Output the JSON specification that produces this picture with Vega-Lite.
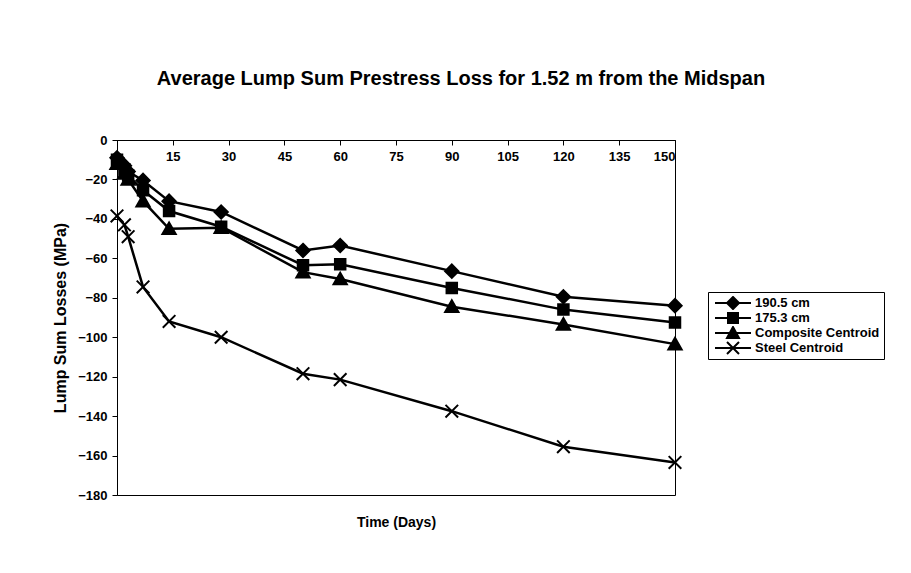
{
  "$schema": "https://vega.github.io/schema/vega-lite/v6.json",
  "width": 558,
  "height": 355,
  "autosize": {"type": "none"},
  "padding": {"left": 117, "top": 140, "right": 236, "bottom": 78},
  "background": "white",
  "config": {
    "font": "Liberation Sans",
    "view": {"stroke": "black", "strokeWidth": 1},
    "axis": {"labelFontWeight": "bold", "labelFontSize": 13, "labelColor": "black", "titleColor": "black", "titleFontWeight": "bold", "domainColor": "black", "tickColor": "black", "grid": false}
  },
  "title": {
    "text": "Average Lump Sum Prestress Loss for 1.52 m from the Midspan",
    "fontSize": 20,
    "fontWeight": "bold",
    "color": "black",
    "anchor": "middle",
    "dx": 65,
    "offset": 45
  },
  "data": {
    "values": [
      {"day": 0, "series": "190.5 cm", "loss": -9},
      {"day": 2, "series": "190.5 cm", "loss": -13},
      {"day": 3, "series": "190.5 cm", "loss": -16},
      {"day": 7, "series": "190.5 cm", "loss": -20.5},
      {"day": 14, "series": "190.5 cm", "loss": -31},
      {"day": 28, "series": "190.5 cm", "loss": -36.5},
      {"day": 50, "series": "190.5 cm", "loss": -56},
      {"day": 60, "series": "190.5 cm", "loss": -53.5},
      {"day": 90, "series": "190.5 cm", "loss": -66.5},
      {"day": 120, "series": "190.5 cm", "loss": -79.5},
      {"day": 150, "series": "190.5 cm", "loss": -84},
      {"day": 0, "series": "175.3 cm", "loss": -10},
      {"day": 2, "series": "175.3 cm", "loss": -15},
      {"day": 3, "series": "175.3 cm", "loss": -18},
      {"day": 7, "series": "175.3 cm", "loss": -25.5},
      {"day": 14, "series": "175.3 cm", "loss": -36},
      {"day": 28, "series": "175.3 cm", "loss": -44},
      {"day": 50, "series": "175.3 cm", "loss": -63.5},
      {"day": 60, "series": "175.3 cm", "loss": -63},
      {"day": 90, "series": "175.3 cm", "loss": -75},
      {"day": 120, "series": "175.3 cm", "loss": -86},
      {"day": 150, "series": "175.3 cm", "loss": -92.5},
      {"day": 0, "series": "Composite Centroid", "loss": -12},
      {"day": 2, "series": "Composite Centroid", "loss": -17},
      {"day": 3, "series": "Composite Centroid", "loss": -20},
      {"day": 7, "series": "Composite Centroid", "loss": -31},
      {"day": 14, "series": "Composite Centroid", "loss": -45},
      {"day": 28, "series": "Composite Centroid", "loss": -44.5},
      {"day": 50, "series": "Composite Centroid", "loss": -67},
      {"day": 60, "series": "Composite Centroid", "loss": -70.5},
      {"day": 90, "series": "Composite Centroid", "loss": -84.5},
      {"day": 120, "series": "Composite Centroid", "loss": -93.5},
      {"day": 150, "series": "Composite Centroid", "loss": -103.5},
      {"day": 0, "series": "Steel Centroid", "loss": -38.5},
      {"day": 2, "series": "Steel Centroid", "loss": -43},
      {"day": 3, "series": "Steel Centroid", "loss": -49},
      {"day": 7, "series": "Steel Centroid", "loss": -74.5},
      {"day": 14, "series": "Steel Centroid", "loss": -92},
      {"day": 28, "series": "Steel Centroid", "loss": -100},
      {"day": 50, "series": "Steel Centroid", "loss": -118.5},
      {"day": 60, "series": "Steel Centroid", "loss": -121.5},
      {"day": 90, "series": "Steel Centroid", "loss": -137.5},
      {"day": 120, "series": "Steel Centroid", "loss": -155.5},
      {"day": 150, "series": "Steel Centroid", "loss": -163.5}
    ]
  },
  "encoding": {
    "x": {
      "field": "day",
      "type": "quantitative",
      "scale": {"domain": [0, 150], "nice": false, "zero": false},
      "axis": {
        "title": "Time (Days)",
        "titleFontSize": 14,
        "orient": "bottom",
        "offset": -355,
        "values": [0, 15, 30, 45, 60, 75, 90, 105, 120, 135, 150],
        "labelExpr": "datum.value == 0 ? '' : datum.label",
        "tickSize": 5,
        "labelPadding": 5,
        "titleY": 382,
        "titleBaseline": "middle"
      }
    },
    "y": {
      "field": "loss",
      "type": "quantitative",
      "scale": {"domain": [-180, 0], "nice": false},
      "axis": {
        "title": "Lump Sum Losses (MPa)",
        "titleFontSize": 16,
        "values": [-180, -160, -140, -120, -100, -80, -60, -40, -20, 0],
        "tickSize": 5,
        "labelPadding": 5,
        "titlePadding": 9
      }
    }
  },
  "layer": [
    {
      "mark": {"type": "line", "color": "black", "strokeWidth": 2.5},
      "encoding": {"detail": {"field": "series"}}
    },
    {
      "mark": {"type": "point", "filled": true, "color": "black", "stroke": "black", "strokeWidth": 2, "size": 196, "opacity": 1},
      "encoding": {
        "shape": {
          "field": "series",
          "type": "nominal",
          "scale": {
            "domain": ["190.5 cm", "175.3 cm", "Composite Centroid", "Steel Centroid"],
            "range": [
              "M0,-0.95L0.95,0L0,0.95L-0.95,0Z",
              "M-0.75,-0.75L0.75,-0.75L0.75,0.75L-0.75,0.75Z",
              "M0,-0.9L0.95,0.75L-0.95,0.75Z",
              "M-0.9,-0.9L0.9,0.9M-0.9,0.9L0.9,-0.9"
            ]
          },
          "legend": null
        }
      }
    },
    {
      "transform": [{"filter": "datum.day < 0"}],
      "mark": {"type": "point", "filled": true, "color": "black", "strokeWidth": 2, "opacity": 1},
      "encoding": {
        "stroke": {"value": "black"},
        "strokeWidth": {"value": 2},
        "shape": {
          "field": "series",
          "type": "nominal",
          "scale": {
            "domain": ["190.5 cm", "175.3 cm", "Composite Centroid", "Steel Centroid"],
            "range": [
              "M-0.9,0L0.9,0M0,-0.3L0.3,0L0,0.3L-0.3,0Z",
              "M-0.9,0L0.9,0M-0.25,-0.25L0.25,-0.25L0.25,0.25L-0.25,0.25Z",
              "M-0.9,0L0.9,0M0,-0.3L0.3,0.25L-0.3,0.25Z",
              "M-0.9,0L0.9,0M-0.3,-0.3L0.3,0.3M-0.3,0.3L0.3,-0.3"
            ]
          },
          "legend": {
            "title": null,
            "orient": "none",
            "legendX": 591,
            "legendY": 152,
            "symbolSize": 1600,
            "symbolStrokeWidth": 2,
            "clipHeight": 14,
            "labelFontSize": 13,
            "labelFontWeight": "bold",
            "labelColor": "black",
            "labelOffset": 1,
            "strokeColor": "black",
            "fillColor": "white",
            "padding": 4,
            "rowPadding": 1
          }
        }
      }
    }
  ],
  "resolve": {"scale": {"shape": "independent"}}
}
